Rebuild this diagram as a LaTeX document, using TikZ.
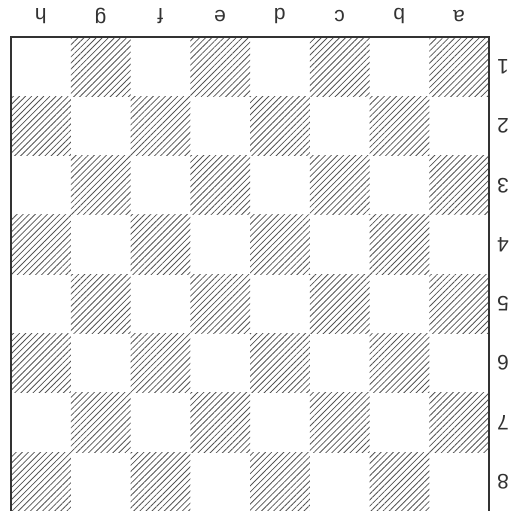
\documentclass[tikz,border=0pt]{standalone}
\usepackage{fontspec}
\setmainfont{Liberation Sans}
\usetikzlibrary{patterns.meta}
\definecolor{ink}{HTML}{333333}
\definecolor{hatch}{HTML}{555555}
\tikzset{
  hatched/.style={pattern={Lines[angle=45,distance=4.3pt,line width=0.8pt]},pattern color=hatch},
  lbl/.style={rotate=180,text=ink,font=\fontsize{21}{21}\selectfont,inner sep=0pt},
  frame/.style={draw=ink,line width=1.8pt}
}
\begin{document}
\begin{tikzpicture}[x=1pt,y=-1pt]
\useasboundingbox (0,0) rectangle (511,511);
\fill[white] (0,0) rectangle (511,511);
\def\L{11}\def\T{37}\def\W{59.75}\def\H{59.3}
\foreach \r in {0,...,7}{
  \foreach \c in {0,...,7}{
    \pgfmathtruncatemacro{\s}{mod(\r+\c,2)}
    \ifnum\s=1
      \pgfmathsetmacro{\xa}{\L+\c*\W}
      \pgfmathsetmacro{\ya}{\T+\r*\H}
      \pgfmathsetmacro{\yb}{\r==7 ? 530 : \T+(\r+1)*\H}
      \fill[hatched] (\xa,\ya) rectangle (\xa+\W,\yb);
    \fi
  }
}
\coordinate (bl) at (11,530);
\coordinate (tl) at (11,37);
\coordinate (tr) at (489,37);
\coordinate (br) at (489,530);
\draw[frame] (bl) -- (tl) -- (tr) -- (br);
\foreach \t [count=\i from 0] in {h,g,f,e,d,c,b,a}{
  \node[lbl] (col\t) at (\L+\i*\W+0.5*\W,16) {\t};
}
\foreach \n in {1,...,8}{
  \node[lbl] (row\n) at (503,\T+\n*\H-0.5*\H) {\n};
}
\end{tikzpicture}
\end{document}
